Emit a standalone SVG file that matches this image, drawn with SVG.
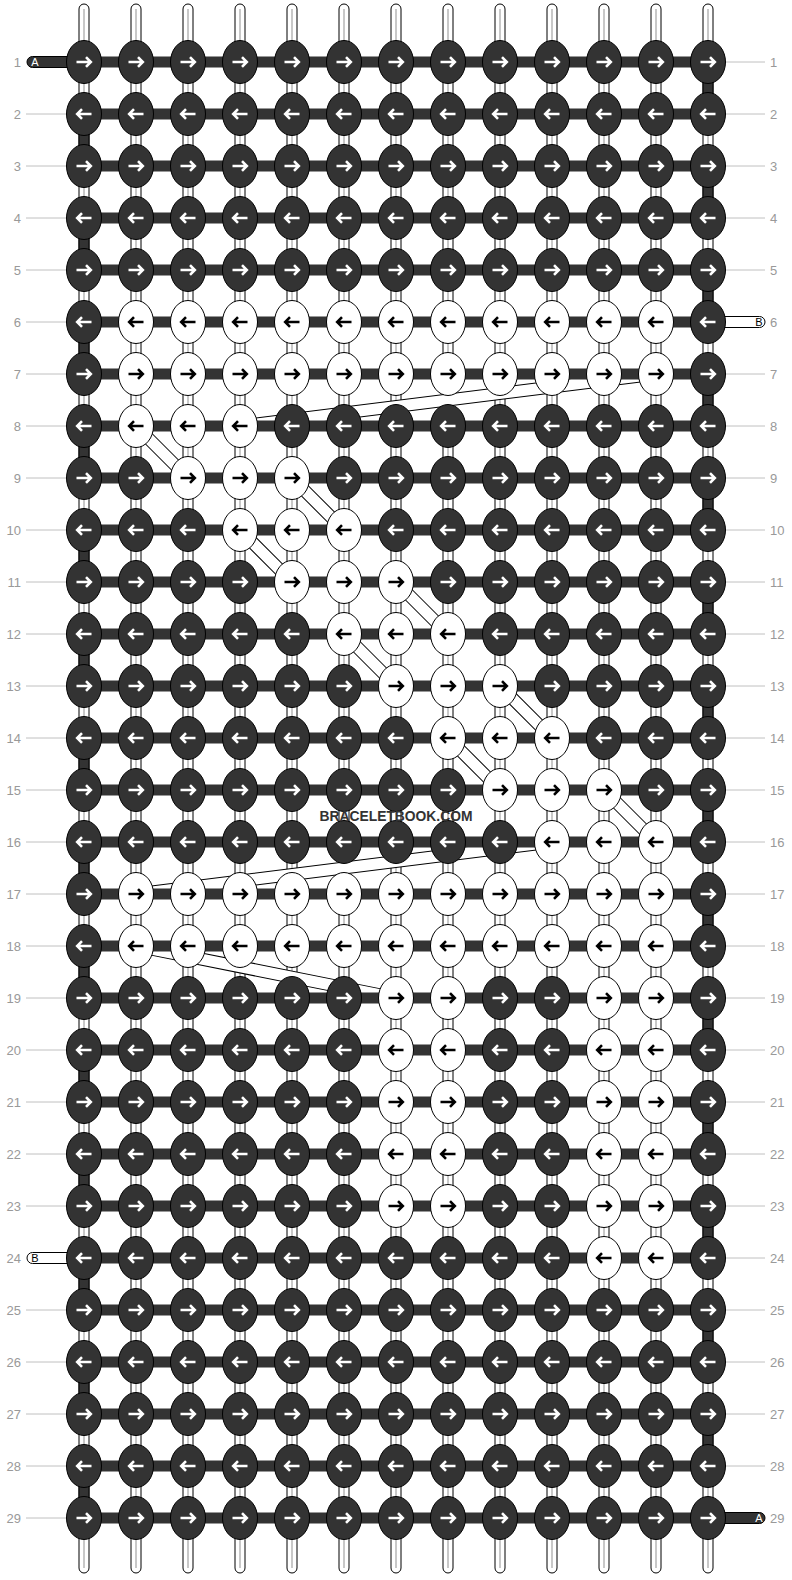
<svg xmlns="http://www.w3.org/2000/svg" width="792" height="1580" viewBox="0 0 792 1580">
<style>
.kd{fill:#333;stroke:#000;stroke-width:1}
.kw{fill:#fff;stroke:#000;stroke-width:1}
.aw{fill:none;stroke:#fff;stroke-width:2.6}
.ab{fill:none;stroke:#000;stroke-width:2.6}
.st{fill:#fff;stroke:#000;stroke-width:1}
.sl{stroke:#c8c8c8;stroke-width:2}
.ds{fill:#333;stroke:#000;stroke-width:1}
.hb{fill:#333}
.lb{font-family:"Liberation Sans",Arial,sans-serif;font-size:13px;fill:#999}
.gl{stroke:#c0c0c0;stroke-width:1}
.bo{stroke:#000;stroke-width:13;stroke-linecap:butt;fill:none}
.bi{stroke:#fff;stroke-width:11;stroke-linecap:butt;fill:none}
.ed{fill:#333;stroke:#000;stroke-width:1}
.ew{fill:#fff;stroke:#000;stroke-width:1}
.et{font-family:"Liberation Sans",Arial,sans-serif;font-size:11px;text-anchor:middle}
</style>
<defs>
<g id="dr"><ellipse rx="17.5" ry="21.5" class="kd"/><path class="aw" d="M-7.5,0H6.5M2,-4.8L6.8,0L2,4.8"/></g>
<g id="dl"><ellipse rx="17.5" ry="21.5" class="kd"/><path class="aw" d="M7.5,0H-6.5M-2,-4.8L-6.8,0L-2,4.8"/></g>
<g id="wr"><ellipse rx="17.5" ry="21.5" class="kw"/><path class="ab" d="M-7.5,0H6.5M2,-4.8L6.8,0L2,4.8"/></g>
<g id="wl"><ellipse rx="17.5" ry="21.5" class="kw"/><path class="ab" d="M7.5,0H-6.5M-2,-4.8L-6.8,0L-2,4.8"/></g>
</defs>
<rect width="792" height="1580" fill="#fff"/>
<g id="strands">
<rect class="st" x="79" y="4" width="10" height="1569" rx="5"/><line class="sl" x1="84" y1="9" x2="84" y2="1568"/>
<rect class="st" x="131" y="4" width="10" height="1569" rx="5"/><line class="sl" x1="136" y1="9" x2="136" y2="1568"/>
<rect class="st" x="183" y="4" width="10" height="1569" rx="5"/><line class="sl" x1="188" y1="9" x2="188" y2="1568"/>
<rect class="st" x="235" y="4" width="10" height="1569" rx="5"/><line class="sl" x1="240" y1="9" x2="240" y2="1568"/>
<rect class="st" x="287" y="4" width="10" height="1569" rx="5"/><line class="sl" x1="292" y1="9" x2="292" y2="1568"/>
<rect class="st" x="339" y="4" width="10" height="1569" rx="5"/><line class="sl" x1="344" y1="9" x2="344" y2="1568"/>
<rect class="st" x="391" y="4" width="10" height="1569" rx="5"/><line class="sl" x1="396" y1="9" x2="396" y2="1568"/>
<rect class="st" x="443" y="4" width="10" height="1569" rx="5"/><line class="sl" x1="448" y1="9" x2="448" y2="1568"/>
<rect class="st" x="495" y="4" width="10" height="1569" rx="5"/><line class="sl" x1="500" y1="9" x2="500" y2="1568"/>
<rect class="st" x="547" y="4" width="10" height="1569" rx="5"/><line class="sl" x1="552" y1="9" x2="552" y2="1568"/>
<rect class="st" x="599" y="4" width="10" height="1569" rx="5"/><line class="sl" x1="604" y1="9" x2="604" y2="1568"/>
<rect class="st" x="651" y="4" width="10" height="1569" rx="5"/><line class="sl" x1="656" y1="9" x2="656" y2="1568"/>
<rect class="st" x="703" y="4" width="10" height="1569" rx="5"/><line class="sl" x1="708" y1="9" x2="708" y2="1568"/>
<path class="ds" d="M703,80h10v16h-10zM703,184h10v16h-10zM703,288h10v16h-10zM703,392h10v16h-10zM703,496h10v16h-10zM703,600h10v16h-10zM703,704h10v16h-10zM703,808h10v16h-10zM703,912h10v16h-10zM703,1016h10v16h-10zM703,1120h10v16h-10zM703,1224h10v16h-10zM703,1328h10v16h-10zM703,1432h10v16h-10zM79,132h10v16h-10zM79,236h10v16h-10zM79,340h10v16h-10zM79,444h10v16h-10zM79,548h10v16h-10zM79,652h10v16h-10zM79,756h10v16h-10zM79,860h10v16h-10zM79,964h10v16h-10zM79,1068h10v16h-10zM79,1172h10v16h-10zM79,1276h10v16h-10zM79,1380h10v16h-10zM79,1484h10v16h-10z"/>
</g>
<g id="connectors">
<path class="bo" d="M656,374L240,426M136,426L188,478M292,478L344,530M240,530L292,582M396,582L448,634M344,634L396,686M500,686L552,738M448,738L500,790M604,790L656,842M552,842L136,894M136,946L396,998"/>
<path class="bi" d="M656,374L240,426M136,426L188,478M292,478L344,530M240,530L292,582M396,582L448,634M344,634L396,686M500,686L552,738M448,738L500,790M604,790L656,842M552,842L136,894M136,946L396,998"/>
<path class="hb" d="M84,56.5h624v11h-624zM84,108.5h624v11h-624zM84,160.5h624v11h-624zM84,212.5h624v11h-624zM84,264.5h624v11h-624zM84,316.5h624v11h-624zM84,368.5h624v11h-624zM84,420.5h624v11h-624zM84,472.5h624v11h-624zM84,524.5h624v11h-624zM84,576.5h624v11h-624zM84,628.5h624v11h-624zM84,680.5h624v11h-624zM84,732.5h624v11h-624zM84,784.5h624v11h-624zM84,836.5h624v11h-624zM84,888.5h624v11h-624zM84,940.5h624v11h-624zM84,992.5h624v11h-624zM84,1044.5h624v11h-624zM84,1096.5h624v11h-624zM84,1148.5h624v11h-624zM84,1200.5h624v11h-624zM84,1252.5h624v11h-624zM84,1304.5h624v11h-624zM84,1356.5h624v11h-624zM84,1408.5h624v11h-624zM84,1460.5h624v11h-624zM84,1512.5h624v11h-624z"/>
<rect class="ed" x="27" y="56.5" width="55" height="11" rx="5.5"/>
<rect class="ew" x="27" y="1252.5" width="55" height="11" rx="5.5"/>
<rect class="ew" x="710" y="316.5" width="55" height="11" rx="5.5"/>
<rect class="ed" x="710" y="1512.5" width="55" height="11" rx="5.5"/>
<text class="et" x="35" y="66" fill="#fff">A</text>
<text class="et" x="35" y="1262" fill="#000">B</text>
<text class="et" x="759" y="326" fill="#000">B</text>
<text class="et" x="759" y="1522" fill="#fff">A</text>
</g>
<g id="guides">
<path class="gl" d="M26,114H67M26,166H67M26,218H67M26,270H67M26,322H67M26,374H67M26,426H67M26,478H67M26,530H67M26,582H67M26,634H67M26,686H67M26,738H67M26,790H67M26,842H67M26,894H67M26,946H67M26,998H67M26,1050H67M26,1102H67M26,1154H67M26,1206H67M26,1310H67M26,1362H67M26,1414H67M26,1466H67M26,1518H67"/>
<path class="gl" d="M725,62H765M725,114H765M725,166H765M725,218H765M725,270H765M725,374H765M725,426H765M725,478H765M725,530H765M725,582H765M725,634H765M725,686H765M725,738H765M725,790H765M725,842H765M725,894H765M725,946H765M725,998H765M725,1050H765M725,1102H765M725,1154H765M725,1206H765M725,1258H765M725,1310H765M725,1362H765M725,1414H765M725,1466H765"/>
<g class="lb" text-anchor="end">
<text x="21" y="66.5">1</text><text x="21" y="118.5">2</text><text x="21" y="170.5">3</text><text x="21" y="222.5">4</text><text x="21" y="274.5">5</text><text x="21" y="326.5">6</text><text x="21" y="378.5">7</text><text x="21" y="430.5">8</text><text x="21" y="482.5">9</text><text x="21" y="534.5">10</text><text x="21" y="586.5">11</text><text x="21" y="638.5">12</text><text x="21" y="690.5">13</text><text x="21" y="742.5">14</text><text x="21" y="794.5">15</text><text x="21" y="846.5">16</text><text x="21" y="898.5">17</text><text x="21" y="950.5">18</text><text x="21" y="1002.5">19</text><text x="21" y="1054.5">20</text><text x="21" y="1106.5">21</text><text x="21" y="1158.5">22</text><text x="21" y="1210.5">23</text><text x="21" y="1262.5">24</text><text x="21" y="1314.5">25</text><text x="21" y="1366.5">26</text><text x="21" y="1418.5">27</text><text x="21" y="1470.5">28</text><text x="21" y="1522.5">29</text>
</g>
<g class="lb">
<text x="770" y="66.5">1</text><text x="770" y="118.5">2</text><text x="770" y="170.5">3</text><text x="770" y="222.5">4</text><text x="770" y="274.5">5</text><text x="770" y="326.5">6</text><text x="770" y="378.5">7</text><text x="770" y="430.5">8</text><text x="770" y="482.5">9</text><text x="770" y="534.5">10</text><text x="770" y="586.5">11</text><text x="770" y="638.5">12</text><text x="770" y="690.5">13</text><text x="770" y="742.5">14</text><text x="770" y="794.5">15</text><text x="770" y="846.5">16</text><text x="770" y="898.5">17</text><text x="770" y="950.5">18</text><text x="770" y="1002.5">19</text><text x="770" y="1054.5">20</text><text x="770" y="1106.5">21</text><text x="770" y="1158.5">22</text><text x="770" y="1210.5">23</text><text x="770" y="1262.5">24</text><text x="770" y="1314.5">25</text><text x="770" y="1366.5">26</text><text x="770" y="1418.5">27</text><text x="770" y="1470.5">28</text><text x="770" y="1522.5">29</text>
</g>
</g>
<g id="knots">
<g id="k1_0"><use href="#dr" x="84" y="62"/></g><g id="k1_1"><use href="#dr" x="136" y="62"/></g><g id="k1_2"><use href="#dr" x="188" y="62"/></g><g id="k1_3"><use href="#dr" x="240" y="62"/></g><g id="k1_4"><use href="#dr" x="292" y="62"/></g><g id="k1_5"><use href="#dr" x="344" y="62"/></g><g id="k1_6"><use href="#dr" x="396" y="62"/></g><g id="k1_7"><use href="#dr" x="448" y="62"/></g><g id="k1_8"><use href="#dr" x="500" y="62"/></g><g id="k1_9"><use href="#dr" x="552" y="62"/></g><g id="k1_10"><use href="#dr" x="604" y="62"/></g><g id="k1_11"><use href="#dr" x="656" y="62"/></g><g id="k1_12"><use href="#dr" x="708" y="62"/></g>
<g id="k2_0"><use href="#dl" x="84" y="114"/></g><g id="k2_1"><use href="#dl" x="136" y="114"/></g><g id="k2_2"><use href="#dl" x="188" y="114"/></g><g id="k2_3"><use href="#dl" x="240" y="114"/></g><g id="k2_4"><use href="#dl" x="292" y="114"/></g><g id="k2_5"><use href="#dl" x="344" y="114"/></g><g id="k2_6"><use href="#dl" x="396" y="114"/></g><g id="k2_7"><use href="#dl" x="448" y="114"/></g><g id="k2_8"><use href="#dl" x="500" y="114"/></g><g id="k2_9"><use href="#dl" x="552" y="114"/></g><g id="k2_10"><use href="#dl" x="604" y="114"/></g><g id="k2_11"><use href="#dl" x="656" y="114"/></g><g id="k2_12"><use href="#dl" x="708" y="114"/></g>
<g id="k3_0"><use href="#dr" x="84" y="166"/></g><g id="k3_1"><use href="#dr" x="136" y="166"/></g><g id="k3_2"><use href="#dr" x="188" y="166"/></g><g id="k3_3"><use href="#dr" x="240" y="166"/></g><g id="k3_4"><use href="#dr" x="292" y="166"/></g><g id="k3_5"><use href="#dr" x="344" y="166"/></g><g id="k3_6"><use href="#dr" x="396" y="166"/></g><g id="k3_7"><use href="#dr" x="448" y="166"/></g><g id="k3_8"><use href="#dr" x="500" y="166"/></g><g id="k3_9"><use href="#dr" x="552" y="166"/></g><g id="k3_10"><use href="#dr" x="604" y="166"/></g><g id="k3_11"><use href="#dr" x="656" y="166"/></g><g id="k3_12"><use href="#dr" x="708" y="166"/></g>
<g id="k4_0"><use href="#dl" x="84" y="218"/></g><g id="k4_1"><use href="#dl" x="136" y="218"/></g><g id="k4_2"><use href="#dl" x="188" y="218"/></g><g id="k4_3"><use href="#dl" x="240" y="218"/></g><g id="k4_4"><use href="#dl" x="292" y="218"/></g><g id="k4_5"><use href="#dl" x="344" y="218"/></g><g id="k4_6"><use href="#dl" x="396" y="218"/></g><g id="k4_7"><use href="#dl" x="448" y="218"/></g><g id="k4_8"><use href="#dl" x="500" y="218"/></g><g id="k4_9"><use href="#dl" x="552" y="218"/></g><g id="k4_10"><use href="#dl" x="604" y="218"/></g><g id="k4_11"><use href="#dl" x="656" y="218"/></g><g id="k4_12"><use href="#dl" x="708" y="218"/></g>
<g id="k5_0"><use href="#dr" x="84" y="270"/></g><g id="k5_1"><use href="#dr" x="136" y="270"/></g><g id="k5_2"><use href="#dr" x="188" y="270"/></g><g id="k5_3"><use href="#dr" x="240" y="270"/></g><g id="k5_4"><use href="#dr" x="292" y="270"/></g><g id="k5_5"><use href="#dr" x="344" y="270"/></g><g id="k5_6"><use href="#dr" x="396" y="270"/></g><g id="k5_7"><use href="#dr" x="448" y="270"/></g><g id="k5_8"><use href="#dr" x="500" y="270"/></g><g id="k5_9"><use href="#dr" x="552" y="270"/></g><g id="k5_10"><use href="#dr" x="604" y="270"/></g><g id="k5_11"><use href="#dr" x="656" y="270"/></g><g id="k5_12"><use href="#dr" x="708" y="270"/></g>
<g id="k6_0"><use href="#dl" x="84" y="322"/></g><g id="k6_1"><use href="#wl" x="136" y="322"/></g><g id="k6_2"><use href="#wl" x="188" y="322"/></g><g id="k6_3"><use href="#wl" x="240" y="322"/></g><g id="k6_4"><use href="#wl" x="292" y="322"/></g><g id="k6_5"><use href="#wl" x="344" y="322"/></g><g id="k6_6"><use href="#wl" x="396" y="322"/></g><g id="k6_7"><use href="#wl" x="448" y="322"/></g><g id="k6_8"><use href="#wl" x="500" y="322"/></g><g id="k6_9"><use href="#wl" x="552" y="322"/></g><g id="k6_10"><use href="#wl" x="604" y="322"/></g><g id="k6_11"><use href="#wl" x="656" y="322"/></g><g id="k6_12"><use href="#dl" x="708" y="322"/></g>
<g id="k7_0"><use href="#dr" x="84" y="374"/></g><g id="k7_1"><use href="#wr" x="136" y="374"/></g><g id="k7_2"><use href="#wr" x="188" y="374"/></g><g id="k7_3"><use href="#wr" x="240" y="374"/></g><g id="k7_4"><use href="#wr" x="292" y="374"/></g><g id="k7_5"><use href="#wr" x="344" y="374"/></g><g id="k7_6"><use href="#wr" x="396" y="374"/></g><g id="k7_7"><use href="#wr" x="448" y="374"/></g><g id="k7_8"><use href="#wr" x="500" y="374"/></g><g id="k7_9"><use href="#wr" x="552" y="374"/></g><g id="k7_10"><use href="#wr" x="604" y="374"/></g><g id="k7_11"><use href="#wr" x="656" y="374"/></g><g id="k7_12"><use href="#dr" x="708" y="374"/></g>
<g id="k8_0"><use href="#dl" x="84" y="426"/></g><g id="k8_1"><use href="#wl" x="136" y="426"/></g><g id="k8_2"><use href="#wl" x="188" y="426"/></g><g id="k8_3"><use href="#wl" x="240" y="426"/></g><g id="k8_4"><use href="#dl" x="292" y="426"/></g><g id="k8_5"><use href="#dl" x="344" y="426"/></g><g id="k8_6"><use href="#dl" x="396" y="426"/></g><g id="k8_7"><use href="#dl" x="448" y="426"/></g><g id="k8_8"><use href="#dl" x="500" y="426"/></g><g id="k8_9"><use href="#dl" x="552" y="426"/></g><g id="k8_10"><use href="#dl" x="604" y="426"/></g><g id="k8_11"><use href="#dl" x="656" y="426"/></g><g id="k8_12"><use href="#dl" x="708" y="426"/></g>
<g id="k9_0"><use href="#dr" x="84" y="478"/></g><g id="k9_1"><use href="#dr" x="136" y="478"/></g><g id="k9_2"><use href="#wr" x="188" y="478"/></g><g id="k9_3"><use href="#wr" x="240" y="478"/></g><g id="k9_4"><use href="#wr" x="292" y="478"/></g><g id="k9_5"><use href="#dr" x="344" y="478"/></g><g id="k9_6"><use href="#dr" x="396" y="478"/></g><g id="k9_7"><use href="#dr" x="448" y="478"/></g><g id="k9_8"><use href="#dr" x="500" y="478"/></g><g id="k9_9"><use href="#dr" x="552" y="478"/></g><g id="k9_10"><use href="#dr" x="604" y="478"/></g><g id="k9_11"><use href="#dr" x="656" y="478"/></g><g id="k9_12"><use href="#dr" x="708" y="478"/></g>
<g id="k10_0"><use href="#dl" x="84" y="530"/></g><g id="k10_1"><use href="#dl" x="136" y="530"/></g><g id="k10_2"><use href="#dl" x="188" y="530"/></g><g id="k10_3"><use href="#wl" x="240" y="530"/></g><g id="k10_4"><use href="#wl" x="292" y="530"/></g><g id="k10_5"><use href="#wl" x="344" y="530"/></g><g id="k10_6"><use href="#dl" x="396" y="530"/></g><g id="k10_7"><use href="#dl" x="448" y="530"/></g><g id="k10_8"><use href="#dl" x="500" y="530"/></g><g id="k10_9"><use href="#dl" x="552" y="530"/></g><g id="k10_10"><use href="#dl" x="604" y="530"/></g><g id="k10_11"><use href="#dl" x="656" y="530"/></g><g id="k10_12"><use href="#dl" x="708" y="530"/></g>
<g id="k11_0"><use href="#dr" x="84" y="582"/></g><g id="k11_1"><use href="#dr" x="136" y="582"/></g><g id="k11_2"><use href="#dr" x="188" y="582"/></g><g id="k11_3"><use href="#dr" x="240" y="582"/></g><g id="k11_4"><use href="#wr" x="292" y="582"/></g><g id="k11_5"><use href="#wr" x="344" y="582"/></g><g id="k11_6"><use href="#wr" x="396" y="582"/></g><g id="k11_7"><use href="#dr" x="448" y="582"/></g><g id="k11_8"><use href="#dr" x="500" y="582"/></g><g id="k11_9"><use href="#dr" x="552" y="582"/></g><g id="k11_10"><use href="#dr" x="604" y="582"/></g><g id="k11_11"><use href="#dr" x="656" y="582"/></g><g id="k11_12"><use href="#dr" x="708" y="582"/></g>
<g id="k12_0"><use href="#dl" x="84" y="634"/></g><g id="k12_1"><use href="#dl" x="136" y="634"/></g><g id="k12_2"><use href="#dl" x="188" y="634"/></g><g id="k12_3"><use href="#dl" x="240" y="634"/></g><g id="k12_4"><use href="#dl" x="292" y="634"/></g><g id="k12_5"><use href="#wl" x="344" y="634"/></g><g id="k12_6"><use href="#wl" x="396" y="634"/></g><g id="k12_7"><use href="#wl" x="448" y="634"/></g><g id="k12_8"><use href="#dl" x="500" y="634"/></g><g id="k12_9"><use href="#dl" x="552" y="634"/></g><g id="k12_10"><use href="#dl" x="604" y="634"/></g><g id="k12_11"><use href="#dl" x="656" y="634"/></g><g id="k12_12"><use href="#dl" x="708" y="634"/></g>
<g id="k13_0"><use href="#dr" x="84" y="686"/></g><g id="k13_1"><use href="#dr" x="136" y="686"/></g><g id="k13_2"><use href="#dr" x="188" y="686"/></g><g id="k13_3"><use href="#dr" x="240" y="686"/></g><g id="k13_4"><use href="#dr" x="292" y="686"/></g><g id="k13_5"><use href="#dr" x="344" y="686"/></g><g id="k13_6"><use href="#wr" x="396" y="686"/></g><g id="k13_7"><use href="#wr" x="448" y="686"/></g><g id="k13_8"><use href="#wr" x="500" y="686"/></g><g id="k13_9"><use href="#dr" x="552" y="686"/></g><g id="k13_10"><use href="#dr" x="604" y="686"/></g><g id="k13_11"><use href="#dr" x="656" y="686"/></g><g id="k13_12"><use href="#dr" x="708" y="686"/></g>
<g id="k14_0"><use href="#dl" x="84" y="738"/></g><g id="k14_1"><use href="#dl" x="136" y="738"/></g><g id="k14_2"><use href="#dl" x="188" y="738"/></g><g id="k14_3"><use href="#dl" x="240" y="738"/></g><g id="k14_4"><use href="#dl" x="292" y="738"/></g><g id="k14_5"><use href="#dl" x="344" y="738"/></g><g id="k14_6"><use href="#dl" x="396" y="738"/></g><g id="k14_7"><use href="#wl" x="448" y="738"/></g><g id="k14_8"><use href="#wl" x="500" y="738"/></g><g id="k14_9"><use href="#wl" x="552" y="738"/></g><g id="k14_10"><use href="#dl" x="604" y="738"/></g><g id="k14_11"><use href="#dl" x="656" y="738"/></g><g id="k14_12"><use href="#dl" x="708" y="738"/></g>
<g id="k15_0"><use href="#dr" x="84" y="790"/></g><g id="k15_1"><use href="#dr" x="136" y="790"/></g><g id="k15_2"><use href="#dr" x="188" y="790"/></g><g id="k15_3"><use href="#dr" x="240" y="790"/></g><g id="k15_4"><use href="#dr" x="292" y="790"/></g><g id="k15_5"><use href="#dr" x="344" y="790"/></g><g id="k15_6"><use href="#dr" x="396" y="790"/></g><g id="k15_7"><use href="#dr" x="448" y="790"/></g><g id="k15_8"><use href="#wr" x="500" y="790"/></g><g id="k15_9"><use href="#wr" x="552" y="790"/></g><g id="k15_10"><use href="#wr" x="604" y="790"/></g><g id="k15_11"><use href="#dr" x="656" y="790"/></g><g id="k15_12"><use href="#dr" x="708" y="790"/></g>
<g id="k16_0"><use href="#dl" x="84" y="842"/></g><g id="k16_1"><use href="#dl" x="136" y="842"/></g><g id="k16_2"><use href="#dl" x="188" y="842"/></g><g id="k16_3"><use href="#dl" x="240" y="842"/></g><g id="k16_4"><use href="#dl" x="292" y="842"/></g><g id="k16_5"><use href="#dl" x="344" y="842"/></g><g id="k16_6"><use href="#dl" x="396" y="842"/></g><g id="k16_7"><use href="#dl" x="448" y="842"/></g><g id="k16_8"><use href="#dl" x="500" y="842"/></g><g id="k16_9"><use href="#wl" x="552" y="842"/></g><g id="k16_10"><use href="#wl" x="604" y="842"/></g><g id="k16_11"><use href="#wl" x="656" y="842"/></g><g id="k16_12"><use href="#dl" x="708" y="842"/></g>
<g id="k17_0"><use href="#dr" x="84" y="894"/></g><g id="k17_1"><use href="#wr" x="136" y="894"/></g><g id="k17_2"><use href="#wr" x="188" y="894"/></g><g id="k17_3"><use href="#wr" x="240" y="894"/></g><g id="k17_4"><use href="#wr" x="292" y="894"/></g><g id="k17_5"><use href="#wr" x="344" y="894"/></g><g id="k17_6"><use href="#wr" x="396" y="894"/></g><g id="k17_7"><use href="#wr" x="448" y="894"/></g><g id="k17_8"><use href="#wr" x="500" y="894"/></g><g id="k17_9"><use href="#wr" x="552" y="894"/></g><g id="k17_10"><use href="#wr" x="604" y="894"/></g><g id="k17_11"><use href="#wr" x="656" y="894"/></g><g id="k17_12"><use href="#dr" x="708" y="894"/></g>
<g id="k18_0"><use href="#dl" x="84" y="946"/></g><g id="k18_1"><use href="#wl" x="136" y="946"/></g><g id="k18_2"><use href="#wl" x="188" y="946"/></g><g id="k18_3"><use href="#wl" x="240" y="946"/></g><g id="k18_4"><use href="#wl" x="292" y="946"/></g><g id="k18_5"><use href="#wl" x="344" y="946"/></g><g id="k18_6"><use href="#wl" x="396" y="946"/></g><g id="k18_7"><use href="#wl" x="448" y="946"/></g><g id="k18_8"><use href="#wl" x="500" y="946"/></g><g id="k18_9"><use href="#wl" x="552" y="946"/></g><g id="k18_10"><use href="#wl" x="604" y="946"/></g><g id="k18_11"><use href="#wl" x="656" y="946"/></g><g id="k18_12"><use href="#dl" x="708" y="946"/></g>
<g id="k19_0"><use href="#dr" x="84" y="998"/></g><g id="k19_1"><use href="#dr" x="136" y="998"/></g><g id="k19_2"><use href="#dr" x="188" y="998"/></g><g id="k19_3"><use href="#dr" x="240" y="998"/></g><g id="k19_4"><use href="#dr" x="292" y="998"/></g><g id="k19_5"><use href="#dr" x="344" y="998"/></g><g id="k19_6"><use href="#wr" x="396" y="998"/></g><g id="k19_7"><use href="#wr" x="448" y="998"/></g><g id="k19_8"><use href="#dr" x="500" y="998"/></g><g id="k19_9"><use href="#dr" x="552" y="998"/></g><g id="k19_10"><use href="#wr" x="604" y="998"/></g><g id="k19_11"><use href="#wr" x="656" y="998"/></g><g id="k19_12"><use href="#dr" x="708" y="998"/></g>
<g id="k20_0"><use href="#dl" x="84" y="1050"/></g><g id="k20_1"><use href="#dl" x="136" y="1050"/></g><g id="k20_2"><use href="#dl" x="188" y="1050"/></g><g id="k20_3"><use href="#dl" x="240" y="1050"/></g><g id="k20_4"><use href="#dl" x="292" y="1050"/></g><g id="k20_5"><use href="#dl" x="344" y="1050"/></g><g id="k20_6"><use href="#wl" x="396" y="1050"/></g><g id="k20_7"><use href="#wl" x="448" y="1050"/></g><g id="k20_8"><use href="#dl" x="500" y="1050"/></g><g id="k20_9"><use href="#dl" x="552" y="1050"/></g><g id="k20_10"><use href="#wl" x="604" y="1050"/></g><g id="k20_11"><use href="#wl" x="656" y="1050"/></g><g id="k20_12"><use href="#dl" x="708" y="1050"/></g>
<g id="k21_0"><use href="#dr" x="84" y="1102"/></g><g id="k21_1"><use href="#dr" x="136" y="1102"/></g><g id="k21_2"><use href="#dr" x="188" y="1102"/></g><g id="k21_3"><use href="#dr" x="240" y="1102"/></g><g id="k21_4"><use href="#dr" x="292" y="1102"/></g><g id="k21_5"><use href="#dr" x="344" y="1102"/></g><g id="k21_6"><use href="#wr" x="396" y="1102"/></g><g id="k21_7"><use href="#wr" x="448" y="1102"/></g><g id="k21_8"><use href="#dr" x="500" y="1102"/></g><g id="k21_9"><use href="#dr" x="552" y="1102"/></g><g id="k21_10"><use href="#wr" x="604" y="1102"/></g><g id="k21_11"><use href="#wr" x="656" y="1102"/></g><g id="k21_12"><use href="#dr" x="708" y="1102"/></g>
<g id="k22_0"><use href="#dl" x="84" y="1154"/></g><g id="k22_1"><use href="#dl" x="136" y="1154"/></g><g id="k22_2"><use href="#dl" x="188" y="1154"/></g><g id="k22_3"><use href="#dl" x="240" y="1154"/></g><g id="k22_4"><use href="#dl" x="292" y="1154"/></g><g id="k22_5"><use href="#dl" x="344" y="1154"/></g><g id="k22_6"><use href="#wl" x="396" y="1154"/></g><g id="k22_7"><use href="#wl" x="448" y="1154"/></g><g id="k22_8"><use href="#dl" x="500" y="1154"/></g><g id="k22_9"><use href="#dl" x="552" y="1154"/></g><g id="k22_10"><use href="#wl" x="604" y="1154"/></g><g id="k22_11"><use href="#wl" x="656" y="1154"/></g><g id="k22_12"><use href="#dl" x="708" y="1154"/></g>
<g id="k23_0"><use href="#dr" x="84" y="1206"/></g><g id="k23_1"><use href="#dr" x="136" y="1206"/></g><g id="k23_2"><use href="#dr" x="188" y="1206"/></g><g id="k23_3"><use href="#dr" x="240" y="1206"/></g><g id="k23_4"><use href="#dr" x="292" y="1206"/></g><g id="k23_5"><use href="#dr" x="344" y="1206"/></g><g id="k23_6"><use href="#wr" x="396" y="1206"/></g><g id="k23_7"><use href="#wr" x="448" y="1206"/></g><g id="k23_8"><use href="#dr" x="500" y="1206"/></g><g id="k23_9"><use href="#dr" x="552" y="1206"/></g><g id="k23_10"><use href="#wr" x="604" y="1206"/></g><g id="k23_11"><use href="#wr" x="656" y="1206"/></g><g id="k23_12"><use href="#dr" x="708" y="1206"/></g>
<g id="k24_0"><use href="#dl" x="84" y="1258"/></g><g id="k24_1"><use href="#dl" x="136" y="1258"/></g><g id="k24_2"><use href="#dl" x="188" y="1258"/></g><g id="k24_3"><use href="#dl" x="240" y="1258"/></g><g id="k24_4"><use href="#dl" x="292" y="1258"/></g><g id="k24_5"><use href="#dl" x="344" y="1258"/></g><g id="k24_6"><use href="#dl" x="396" y="1258"/></g><g id="k24_7"><use href="#dl" x="448" y="1258"/></g><g id="k24_8"><use href="#dl" x="500" y="1258"/></g><g id="k24_9"><use href="#dl" x="552" y="1258"/></g><g id="k24_10"><use href="#wl" x="604" y="1258"/></g><g id="k24_11"><use href="#wl" x="656" y="1258"/></g><g id="k24_12"><use href="#dl" x="708" y="1258"/></g>
<g id="k25_0"><use href="#dr" x="84" y="1310"/></g><g id="k25_1"><use href="#dr" x="136" y="1310"/></g><g id="k25_2"><use href="#dr" x="188" y="1310"/></g><g id="k25_3"><use href="#dr" x="240" y="1310"/></g><g id="k25_4"><use href="#dr" x="292" y="1310"/></g><g id="k25_5"><use href="#dr" x="344" y="1310"/></g><g id="k25_6"><use href="#dr" x="396" y="1310"/></g><g id="k25_7"><use href="#dr" x="448" y="1310"/></g><g id="k25_8"><use href="#dr" x="500" y="1310"/></g><g id="k25_9"><use href="#dr" x="552" y="1310"/></g><g id="k25_10"><use href="#dr" x="604" y="1310"/></g><g id="k25_11"><use href="#dr" x="656" y="1310"/></g><g id="k25_12"><use href="#dr" x="708" y="1310"/></g>
<g id="k26_0"><use href="#dl" x="84" y="1362"/></g><g id="k26_1"><use href="#dl" x="136" y="1362"/></g><g id="k26_2"><use href="#dl" x="188" y="1362"/></g><g id="k26_3"><use href="#dl" x="240" y="1362"/></g><g id="k26_4"><use href="#dl" x="292" y="1362"/></g><g id="k26_5"><use href="#dl" x="344" y="1362"/></g><g id="k26_6"><use href="#dl" x="396" y="1362"/></g><g id="k26_7"><use href="#dl" x="448" y="1362"/></g><g id="k26_8"><use href="#dl" x="500" y="1362"/></g><g id="k26_9"><use href="#dl" x="552" y="1362"/></g><g id="k26_10"><use href="#dl" x="604" y="1362"/></g><g id="k26_11"><use href="#dl" x="656" y="1362"/></g><g id="k26_12"><use href="#dl" x="708" y="1362"/></g>
<g id="k27_0"><use href="#dr" x="84" y="1414"/></g><g id="k27_1"><use href="#dr" x="136" y="1414"/></g><g id="k27_2"><use href="#dr" x="188" y="1414"/></g><g id="k27_3"><use href="#dr" x="240" y="1414"/></g><g id="k27_4"><use href="#dr" x="292" y="1414"/></g><g id="k27_5"><use href="#dr" x="344" y="1414"/></g><g id="k27_6"><use href="#dr" x="396" y="1414"/></g><g id="k27_7"><use href="#dr" x="448" y="1414"/></g><g id="k27_8"><use href="#dr" x="500" y="1414"/></g><g id="k27_9"><use href="#dr" x="552" y="1414"/></g><g id="k27_10"><use href="#dr" x="604" y="1414"/></g><g id="k27_11"><use href="#dr" x="656" y="1414"/></g><g id="k27_12"><use href="#dr" x="708" y="1414"/></g>
<g id="k28_0"><use href="#dl" x="84" y="1466"/></g><g id="k28_1"><use href="#dl" x="136" y="1466"/></g><g id="k28_2"><use href="#dl" x="188" y="1466"/></g><g id="k28_3"><use href="#dl" x="240" y="1466"/></g><g id="k28_4"><use href="#dl" x="292" y="1466"/></g><g id="k28_5"><use href="#dl" x="344" y="1466"/></g><g id="k28_6"><use href="#dl" x="396" y="1466"/></g><g id="k28_7"><use href="#dl" x="448" y="1466"/></g><g id="k28_8"><use href="#dl" x="500" y="1466"/></g><g id="k28_9"><use href="#dl" x="552" y="1466"/></g><g id="k28_10"><use href="#dl" x="604" y="1466"/></g><g id="k28_11"><use href="#dl" x="656" y="1466"/></g><g id="k28_12"><use href="#dl" x="708" y="1466"/></g>
<g id="k29_0"><use href="#dr" x="84" y="1518"/></g><g id="k29_1"><use href="#dr" x="136" y="1518"/></g><g id="k29_2"><use href="#dr" x="188" y="1518"/></g><g id="k29_3"><use href="#dr" x="240" y="1518"/></g><g id="k29_4"><use href="#dr" x="292" y="1518"/></g><g id="k29_5"><use href="#dr" x="344" y="1518"/></g><g id="k29_6"><use href="#dr" x="396" y="1518"/></g><g id="k29_7"><use href="#dr" x="448" y="1518"/></g><g id="k29_8"><use href="#dr" x="500" y="1518"/></g><g id="k29_9"><use href="#dr" x="552" y="1518"/></g><g id="k29_10"><use href="#dr" x="604" y="1518"/></g><g id="k29_11"><use href="#dr" x="656" y="1518"/></g><g id="k29_12"><use href="#dr" x="708" y="1518"/></g>
</g>
<text x="396" y="820.5" font-family="Liberation Sans, Arial, sans-serif" font-weight="bold" font-size="15" fill="#333" text-anchor="middle" textLength="153" lengthAdjust="spacingAndGlyphs">BRACELETBOOK.COM</text>
</svg>
